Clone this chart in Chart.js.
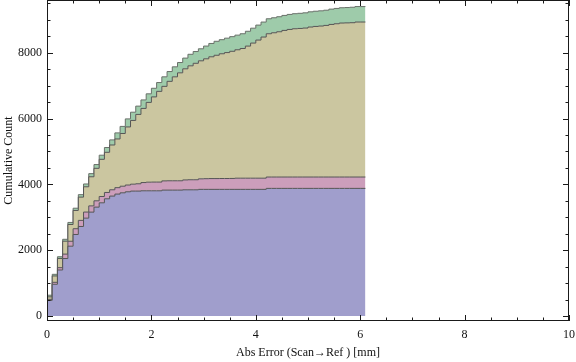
<!DOCTYPE html>
<html>
<head>
<meta charset="utf-8">
<script src="https://cdn.jsdelivr.net/npm/chart.js@4.4.0/dist/chart.umd.min.js"></script>
<style>
  html, body { margin: 0; padding: 0; background: #fff; }
</style>
</head>
<body>
<canvas id="myChart" width="576" height="362"></canvas>
<script>
// cumulative counts per 0.1 mm bin, one list per category (stacked)
const binWidth = 0.1;
const blue = [478, 965, 1400, 1747, 2122, 2478, 2721, 2974, 3157, 3309,
  3440, 3562, 3644, 3705, 3744, 3775, 3796, 3796, 3805, 3805,
  3805, 3805, 3826, 3826, 3826, 3826, 3835, 3835, 3835, 3848,
  3848, 3848, 3848, 3848, 3848, 3848, 3848, 3848, 3848, 3848,
  3848, 3848, 3878, 3878, 3878, 3878, 3878, 3878, 3878, 3878,
  3878, 3878, 3878, 3878, 3878, 3878, 3878, 3878, 3878, 3878, 3878];
const pink = [30, 60, 70, 135, 150, 175, 185, 185, 190, 192,
  192, 192, 192, 195, 200, 205, 210, 222, 250, 262,
  265, 265, 280, 283, 283, 283, 300, 305, 305, 320,
  325, 328, 328, 330, 330, 332, 340, 340, 340, 340,
  340, 340, 345, 345, 345, 345, 345, 345, 345, 345,
  345, 345, 345, 345, 345, 345, 345, 345, 345, 345, 345];
const tan = [76, 193, 280, 392, 510, 555, 707, 768, 884, 986,
  1129, 1220, 1360, 1479, 1602, 1764, 1936, 2107, 2252, 2423,
  2587, 2755, 2871, 3020, 3157, 3279, 3375, 3461, 3537, 3585,
  3641, 3699, 3745, 3789, 3825, 3862, 3900, 3939, 4012, 4104,
  4195, 4287, 4352, 4382, 4413, 4453, 4483, 4504, 4513, 4525,
  4556, 4574, 4586, 4605, 4635, 4656, 4677, 4682, 4687, 4708, 4708];
const green = [50, 50, 52, 58, 62, 68, 75, 85, 95, 115,
  125, 145, 155, 185, 215, 245, 250, 252, 258, 260,
  262, 268, 289, 298, 304, 313, 325, 350, 358, 365,
  387, 405, 425, 428, 438, 445, 445, 448, 450, 452,
  455, 455, 455, 455, 456, 456, 456, 457, 460, 462,
  462, 462, 462, 462, 465, 465, 465, 466, 470, 470, 470];
const xTicks = [0, 2, 4, 6, 8, 10];
const yTicks = [0, 2000, 4000, 6000, 8000];

// bin i starts at i*0.1, last value is carried to the right edge
function toPoints(values) {
  const pts = values.map((v, i) => ({ x: Math.round(i * binWidth * 10) / 10, y: v }));
  pts.push({ x: Math.round(values.length * binWidth * 10) / 10, y: values[values.length - 1] });
  return pts;
}

function series(values, fill, bg, line) {
  return {
    data: toPoints(values),
    stepped: true,
    fill: fill,
    backgroundColor: bg,
    borderColor: line,
    borderWidth: 1,
    pointRadius: 0,
    tension: 0
  };
}

// Mathematica-like frame with inward ticks on all four sides
const framePlugin = {
  id: 'frame',
  afterDatasetsDraw(chart) {
    const { ctx, chartArea: a, scales } = chart;
    const x = scales.x, y = scales.y;
    ctx.save();
    ctx.strokeStyle = '#1a1a1a';
    ctx.lineWidth = 1;
    ctx.strokeRect(a.left + 0.5, a.top + 0.5, a.right - a.left - 1, a.bottom - a.top - 1);
    ctx.beginPath();
    for (let i = 0; i <= 20; i++) {
      const px = Math.round(x.getPixelForValue(i * 0.5)) + 0.5;
      const len = i % 4 === 0 ? 6 : 3.5;
      ctx.moveTo(px, a.bottom);
      ctx.lineTo(px, a.bottom - len);
      ctx.moveTo(px, a.top);
      ctx.lineTo(px, a.top + len);
    }
    for (let i = 0; i <= 19; i++) {
      const py = Math.round(y.getPixelForValue(i * 500)) + 0.5;
      const len = i % 4 === 0 ? 6 : 3.5;
      ctx.moveTo(a.left, py);
      ctx.lineTo(a.left + len, py);
      ctx.moveTo(a.right, py);
      ctx.lineTo(a.right - len, py);
    }
    ctx.stroke();
    ctx.restore();
  }
};

const font = { family: 'Liberation Serif', size: 12 };

new Chart(document.getElementById('myChart').getContext('2d'), {
  type: 'line',
  data: {
    datasets: [
      series(blue, 'origin', '#a09ecc', '#555555'),
      series(pink, '-1', '#cc9ebb', '#555555'),
      series(tan, '-1', '#cbc6a0', '#555555'),
      series(green, '-1', '#9ecbaa', '#6a716a')
    ]
  },
  options: {
    responsive: false,
    animation: false,
    layout: { padding: { top: 0, right: 7, left: 0, bottom: 0 } },
    plugins: { legend: { display: false }, tooltip: { enabled: false } },
    scales: {
      x: {
        type: 'linear',
        min: 0,
        max: 10,
        grid: { display: false, drawTicks: false },
        border: { display: false },
        afterBuildTicks: (s) => { s.ticks = xTicks.map(v => ({ value: v })); },
        afterFit: (s) => { s.height = 41; s.paddingLeft = 0; s.paddingRight = 0; },
        ticks: { padding: 7, color: '#111', font: font, maxRotation: 0 },
        title: {
          display: true,
          text: 'Abs Error (Scan\u2192Ref ) [mm]',
          color: '#111',
          font: font,
          padding: { top: 0, bottom: 2 }
        }
      },
      y: {
        stacked: true,
        min: -150,
        max: 9600,
        grid: { display: false, drawTicks: false },
        border: { display: false },
        afterBuildTicks: (s) => { s.ticks = yTicks.map(v => ({ value: v })); },
        afterFit: (s) => { s.width = 47; s.paddingTop = 0; s.paddingBottom = 0; },
        ticks: { padding: 5, color: '#111', font: font, callback: (v) => String(v) },
        title: {
          display: true,
          text: 'Cumulative Count',
          color: '#111',
          font: font,
          padding: { top: 2, bottom: 0 }
        }
      }
    }
  },
  plugins: [framePlugin]
});
</script>
</body>
</html>
